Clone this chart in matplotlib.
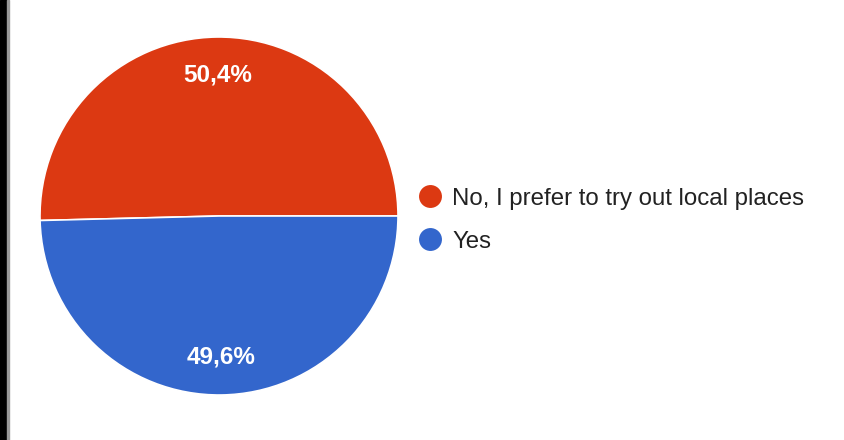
import matplotlib.pyplot as plt
from matplotlib.patches import Rectangle

# survey answers
labels = ['No, I prefer to try out local places', 'Yes']
shares = [50.4, 49.6]
colors = ['#DC3912', '#3366CC']

W, H = 844, 440

fig = plt.figure(figsize=(W / 100, H / 100), dpi=100)
ax = fig.add_axes([0, 0, 1, 1])

# pie in pixel units, y measured from the bottom
cx, cy, r = 219, H - 216, 179

def pct_label(p):
    return f'{p:.1f}'.replace('.', ',') + '%'

wedges, texts, autotexts = ax.pie(
    shares, colors=colors, startangle=0, counterclock=True,
    center=(cx, cy), radius=r, autopct=pct_label, pctdistance=0.785,
    wedgeprops=dict(edgecolor='white', linewidth=1.2),
    textprops=dict(color='white', fontsize=17.5, fontweight='bold',
                   family='Liberation Sans'))

# legend drawn by hand, one row per answer
leg_y = [H - 196, H - 239]
for lab, col, y in zip(labels, colors, leg_y):
    ax.plot(429.5, y, 'o', ms=16.5, color=col, mec='none')
    ax.text(452, y - 2.5, lab, va='center', ha='left', fontsize=17.3,
            color='#222222', family='Liberation Sans')

ax.set_xlim(0, W)
ax.set_ylim(0, H)
ax.set_aspect('auto')
ax.axis('off')

# dark frame edge on the left
fig.patches.append(Rectangle((0, 0), 7 / W, 1, transform=fig.transFigure,
                             color='black', zorder=5))
fig.patches.append(Rectangle((7 / W, 0), 2 / W, 1, transform=fig.transFigure,
                             color='#9a9a9a', zorder=5))

fig.savefig('out.png', dpi=100)
